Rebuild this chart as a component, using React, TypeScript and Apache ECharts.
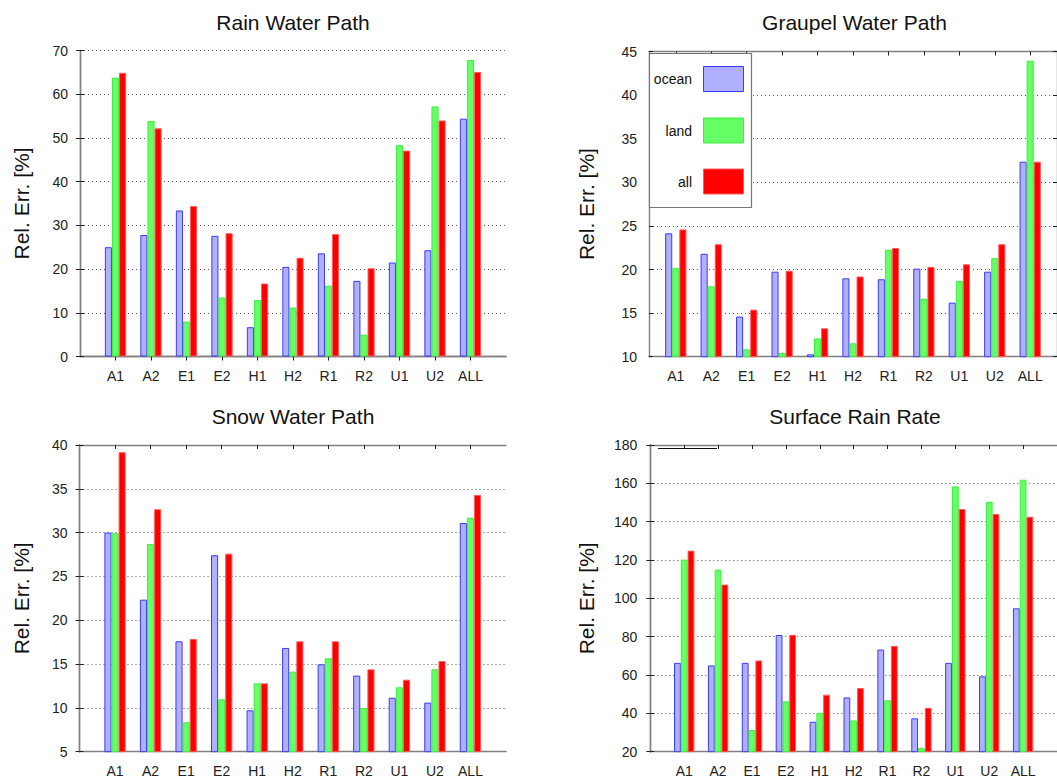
import React, { useEffect, useRef } from "react";
import * as echarts from "echarts";

const categories = ["A1", "A2", "E1", "E2", "H1", "H2", "R1", "R2", "U1", "U2", "ALL"];
const seriesNames = ["ocean", "land", "all"];
const panelTitles = ["Rain Water Path", "Graupel Water Path", "Snow Water Path", "Surface Rain Rate"];
const yAxisTitle = "Rel. Err. [%]";

const rainOcean = [25.0, 27.8, 33.4, 27.6, 6.7, 20.5, 23.6, 17.3, 21.5, 24.3, 54.4];
const rainLand = [63.8, 53.9, 8.0, 13.5, 12.9, 11.2, 16.2, 5.0, 48.4, 57.2, 67.8];
const rainAll = [64.9, 52.2, 34.4, 28.2, 16.7, 22.6, 28.0, 20.2, 47.1, 54.0, 65.1];

const graupelOcean = [24.15, 21.8, 14.6, 19.75, 10.27, 18.99, 18.88, 20.1, 16.2, 19.75, 32.36];
const graupelLand = [20.2, 18.07, 10.85, 10.42, 12.1, 11.53, 22.27, 16.65, 18.7, 21.3, 43.95];
const graupelAll = [24.6, 22.9, 15.4, 19.86, 13.26, 19.2, 22.47, 20.3, 20.6, 22.9, 32.36];

const snowOcean = [30.0, 22.35, 17.6, 27.42, 9.72, 16.84, 14.97, 13.68, 11.16, 10.6, 31.1];
const snowLand = [29.93, 28.71, 8.36, 10.98, 12.8, 14.13, 15.66, 9.99, 12.35, 14.4, 31.7];
const snowAll = [39.18, 32.67, 17.87, 27.6, 12.8, 17.6, 17.6, 14.4, 13.22, 15.35, 34.3];

const surfOcean = [66.35, 65.0, 66.35, 80.9, 35.6, 48.3, 73.3, 37.4, 66.35, 59.3, 94.8];
const surfLand = [120.2, 115.0, 31.3, 46.25, 40.3, 36.3, 46.8, 21.9, 158.4, 150.4, 161.9];
const surfAll = [124.9, 107.2, 67.6, 81.0, 49.7, 53.2, 75.2, 42.9, 146.6, 144.0, 142.6];

const panelData = [
  [rainOcean, rainLand, rainAll],
  [graupelOcean, graupelLand, graupelAll],
  [snowOcean, snowLand, snowAll],
  [surfOcean, surfLand, surfAll],
];

// y ranges: [min, max, interval]
const yRanges = [
  [0, 70, 10],
  [10, 45, 5],
  [5, 40, 5],
  [20, 180, 20],
];

const FONT = "'Liberation Sans', Arial, Helvetica, sans-serif";

const grids = [
  { left: 80, top: 50.5, width: 426, height: 306 },
  { left: 649, top: 51.5, width: 411, height: 305.2 },
  { left: 79.5, top: 445, width: 426.5, height: 306.7 },
  { left: 649.3, top: 445, width: 417.2, height: 306.7 },
];
const xRanges = [
  [0, 12],
  [0.244, 11.756],
  [0, 12],
  [-0.03, 12],
];
const nameGaps = [48, 52, 48, 52];

const fills = ["#b0b0ff", "#66ff66", "#ff0000"];
const borders = ["#3a3aff", "#3cf03c", "#ff5a5a"];

export default function App() {
  const ref = useRef<HTMLDivElement>(null);
  useEffect(() => {
    if (!ref.current) return;
    const chart = echarts.init(ref.current, null, { renderer: "svg" });
    const tickVals = categories.map((_, i) => i + 1);
    const xAxis: any[] = [];
    const yAxis: any[] = [];
    const series: any[] = [];
    const axisLine = { show: true, lineStyle: { color: "#808080", width: 1.4 } };
    const axisTick = { show: true, inside: true, length: 4, lineStyle: { color: "#222", width: 1 } };
    grids.forEach((g, p) => {
      const [xmin, xmax] = xRanges[p];
      const [ymin, ymax, yint] = yRanges[p];
      xAxis.push({
        type: "value",
        gridIndex: p,
        position: "bottom",
        min: xmin,
        max: xmax,
        axisLine,
        axisTick: { ...axisTick, customValues: tickVals },
        axisLabel: {
          customValues: tickVals,
          formatter: (v: number) => categories[Math.round(v) - 1] ?? "",
          fontSize: 14,
          fontFamily: FONT,
          color: "#222",
          margin: 12,
        },
        splitLine: { show: false },
      });
      xAxis.push({
        type: "value",
        gridIndex: p,
        position: "top",
        min: xmin,
        max: xmax,
        axisLine,
        axisTick: { ...axisTick, customValues: tickVals },
        axisLabel: { show: false },
        splitLine: { show: false },
      });
      yAxis.push({
        type: "value",
        gridIndex: p,
        position: "left",
        min: ymin,
        max: ymax,
        interval: yint,
        axisLine,
        axisTick,
        axisLabel: { fontSize: 14, fontFamily: FONT, color: "#222", margin: 12 },
        splitLine: { show: true, lineStyle: { type: [1, 3], color: "#555", width: 1 } },
        name: yAxisTitle,
        nameLocation: "middle",
        nameRotate: 90,
        nameGap: nameGaps[p],
        nameTextStyle: { fontSize: 21, fontFamily: FONT, color: "#111" },
      });
      yAxis.push({
        type: "value",
        gridIndex: p,
        position: "right",
        min: ymin,
        max: ymax,
        interval: yint,
        axisLine,
        axisTick,
        axisLabel: { show: false },
        splitLine: { show: false },
      });
      panelData[p].forEach((vals, s) => {
        series.push({
          type: "bar",
          name: seriesNames[s],
          xAxisIndex: 2 * p,
          yAxisIndex: 2 * p,
          data: vals.map((v, i) => [i + 1, v]),
          barGap: "0%",
          barCategoryGap: "40%",
          clip: true,
          itemStyle: { color: fills[s], borderColor: borders[s], borderWidth: 1 },
        });
      });
    });

    const titleCenters = [
      [293, 22.5],
      [854.5, 22.5],
      [293, 416],
      [855, 416],
    ];
    const graphic: any[] = titleCenters.map((c, i) => ({
      type: "text",
      x: c[0],
      y: c[1],
      z: 100,
      style: {
        text: panelTitles[i],
        align: "center",
        verticalAlign: "middle",
        fontSize: 21,
        fontFamily: FONT,
        fill: "#111",
      },
    }));
    // Legend box in the Graupel panel
    graphic.push({
      type: "rect",
      z: 100,
      shape: { x: 649.5, y: 53.5, width: 102, height: 154 },
      style: { fill: "#fff", stroke: "#777", lineWidth: 1.2 },
    });
    const legendY = [79, 130.5, 181.5];
    seriesNames.forEach((n, i) => {
      graphic.push({
        type: "text",
        z: 101,
        x: 692,
        y: legendY[i],
        style: { text: n, align: "right", verticalAlign: "middle", fontSize: 14, fontFamily: FONT, fill: "#111" },
      });
      graphic.push({
        type: "rect",
        z: 101,
        shape: { x: 703.5, y: legendY[i] - 12.5, width: 40, height: 25 },
        style: { fill: fills[i], stroke: borders[i], lineWidth: 1 },
      });
    });
    // stray key line in the Surface Rain Rate panel
    graphic.push({
      type: "line",
      z: 100,
      shape: { x1: 658, y1: 448.5, x2: 717, y2: 448.5 },
      style: { stroke: "#111", lineWidth: 1 },
    });

    chart.setOption({
      animation: false,
      backgroundColor: "#ffffff",
      grid: grids.map((g) => ({ ...g, containLabel: false })),
      xAxis,
      yAxis,
      series,
      graphic,
    });
    return () => chart.dispose();
  }, []);
  return (
    <div
      ref={ref}
      style={{ position: "absolute", left: 0, top: 0, width: 1057, height: 779, background: "#fff" }}
    />
  );
}
